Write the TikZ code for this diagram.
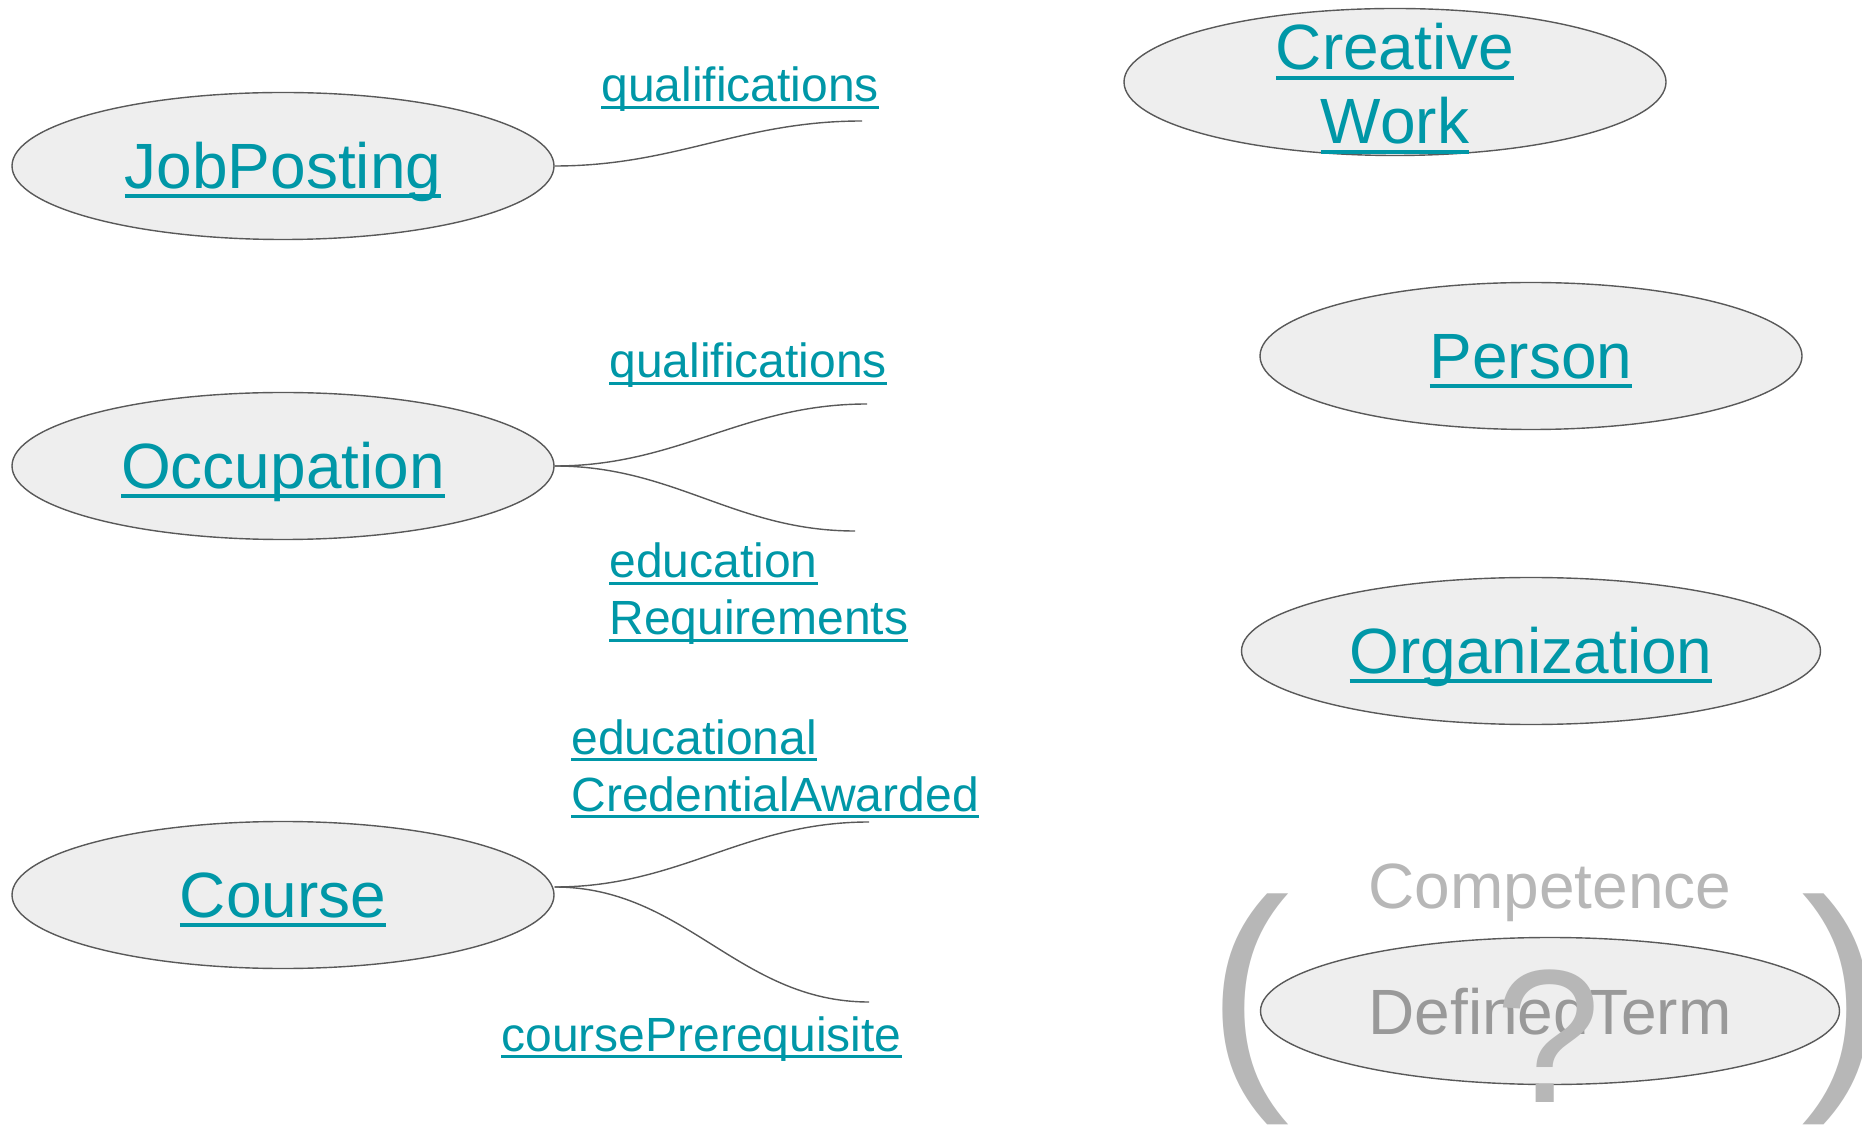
\documentclass[tikz,border=0pt]{standalone}
\usepackage{fontspec}
\setmainfont{Liberation Sans}
\usetikzlibrary{shapes.geometric}
\definecolor{lnkc}{HTML}{0097A7}
\definecolor{rim}{HTML}{595959}
\definecolor{bubble}{HTML}{EEEEEE}
\definecolor{faint}{HTML}{B7B7B7}
\definecolor{dim}{HTML}{999999}
\newcommand{\lnk}[1]{\setbox0=\hbox{#1}\rlap{\vrule width\wd0 height-.09em depth.15em}\box0}
\newcommand{\bigf}{\fontsize{32}{37}\selectfont}
\newcommand{\smallf}{\fontsize{24}{28.5}\selectfont}
\tikzset{
  cls/.style={ellipse, draw=rim, fill=bubble, line width=.7pt, inner sep=0pt,
    minimum width=271pt, minimum height=73.5pt, text=lnkc, font=\bigf, align=center,
    text height=26pt, text depth=3.8pt},
  wide/.style={cls, minimum width=289.5pt},
  prop/.style={anchor=base west, inner sep=0pt, text=lnkc, font=\smallf, align=left},
  link/.style={draw=rim, line width=.7pt}
}
\begin{document}
\begin{tikzpicture}[x=0.5pt,y=-0.5pt]
            \useasboundingbox (0,0) rectangle (1862,1127);
            \node[cls] (jp) at (283,166) {\lnk{JobPosting}};
            \node[cls] (oc) at (283,466) {\lnk{Occupation}};
            \node[cls] (co) at (283,895) {\lnk{Course}};
            \node[cls, text height=62pt, text depth=0pt, inner ysep=-12pt] (cw) at (1395,82) {\lnk{Creative}\\\lnk{Work}};
            \node[cls] (pe) at (1531,356) {\lnk{Person}};
            \node[wide] (org) at (1531,651) {\lnk{Organization}};
            \node[wide, text=dim, text height=23pt, text depth=0pt] (dt) at (1550,1011) {DefinedTerm};

            \node[prop] (q1) at (601,102) {\lnk{qualifications}};
            \node[prop] (q2) at (609,378) {\lnk{qualifications}};
            \node[prop] (er) at (609,635) {\lnk{education}\\\lnk{Requirements}};
            \node[prop] (ec) at (571,811) {\lnk{educational}\\\lnk{CredentialAwarded}};
            \node[prop] (cp) at (501,1051) {\lnk{coursePrerequisite}};

            \coordinate (q1e) at (862,121);
            \coordinate (q2e) at (867,404);
            \coordinate (ere) at (855,531);
            \coordinate (ece) at (869,822);
            \coordinate (cpe) at (869,1002);

            \draw[link] (jp.east) to[out=0,in=180] (q1e); \draw[link] (oc.east) to[out=0,in=180] (q2e); \draw[link] (oc.east) to[out=0,in=180] (ere);
            \draw[link] ([yshift=4pt]co.east) to[out=0,in=180] (ece); \draw[link] ([yshift=4pt]co.east) to[out=0,in=180] (cpe);

            \node[anchor=base, inner sep=0pt, font=\bigf, text=faint] (cm) at (1550,908) {Competence};
            \node[inner sep=0pt, font=\fontsize{124}{124}\selectfont, text=faint] (lp) at (1249,1009) {(};
            \node[inner sep=0pt, font=\fontsize{124}{124}\selectfont, text=faint] (rp) at (1843,1009) {)};
            \node[inner sep=0pt, font=\fontsize{95}{95}\selectfont, text=faint] (qm) at (1548,1036) {?};
        \end{tikzpicture}
\end{document}
